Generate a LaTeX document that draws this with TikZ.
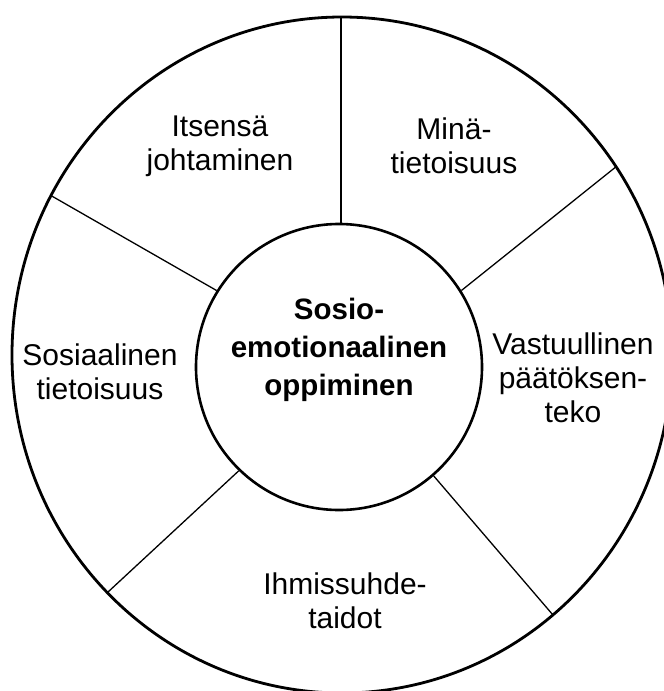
\documentclass[tikz,border=0pt]{standalone}
\usepackage{fontspec}
\usetikzlibrary{calc}
\setmainfont{Liberation Sans}
\begin{document}
\begin{tikzpicture}[x=1pt,y=-1pt,
  lbl/.style={align=center,font=\fontsize{30}{34}\selectfont,text=black,inner sep=0pt},
  ctr/.style={align=center,font=\bfseries\fontsize{29.5}{38}\selectfont,inner sep=0pt},
  divider/.style={line width=1.3pt,black}]
\clip (0,0) rectangle (664,691);
\fill[white] (0,0) rectangle (664,691);
% inner circle
\node[draw,circle,line width=2.6pt,minimum size=286pt,inner sep=0pt] (inner) at (339,367) {};
\node[ctr] (ctext) at (339,350) {Sosio-\\emotionaalinen\\oppiminen};
% divider directions (extended, clipped by the outer ring)
\coordinate (otop) at (341,17);
\coordinate (oul) at ($(inner.148)!2.5!(50,195)$);
\coordinate (our) at ($(inner.32)!2.5!(612,170)$);
\coordinate (oll) at ($(inner.226)!2.5!(108,592)$);
\coordinate (olr) at ($(inner.-49)!2.5!(553,615)$);
\begin{scope}
\clip (342,355) ellipse [x radius=330, y radius=338];
\draw[divider,line width=1.6pt] (otop) -- (otop |- inner.north);
\draw[divider] (inner.148) -- (oul);
\draw[divider] (inner.32) -- (our);
\draw[divider] (inner.226) -- (oll);
\draw[divider] (inner.-49) -- (olr);
\end{scope}
% outer ring
\draw[line width=2.8pt] (342,355) ellipse [x radius=330, y radius=338];
% labels
\node[lbl] (l1) at (220,146) {Itsensä\\johtaminen};
\node[lbl] (l2) at (454,146) {Minä-\\tietoisuus};
\node[lbl] (l3) at (100,372) {Sosiaalinen\\tietoisuus};
\node[lbl] (l4) at (573,378) {Vastuullinen\\päätöksen-\\teko};
\node[lbl] (l5) at (345,601) {Ihmissuhde-\\taidot};
\end{tikzpicture}
\end{document}
